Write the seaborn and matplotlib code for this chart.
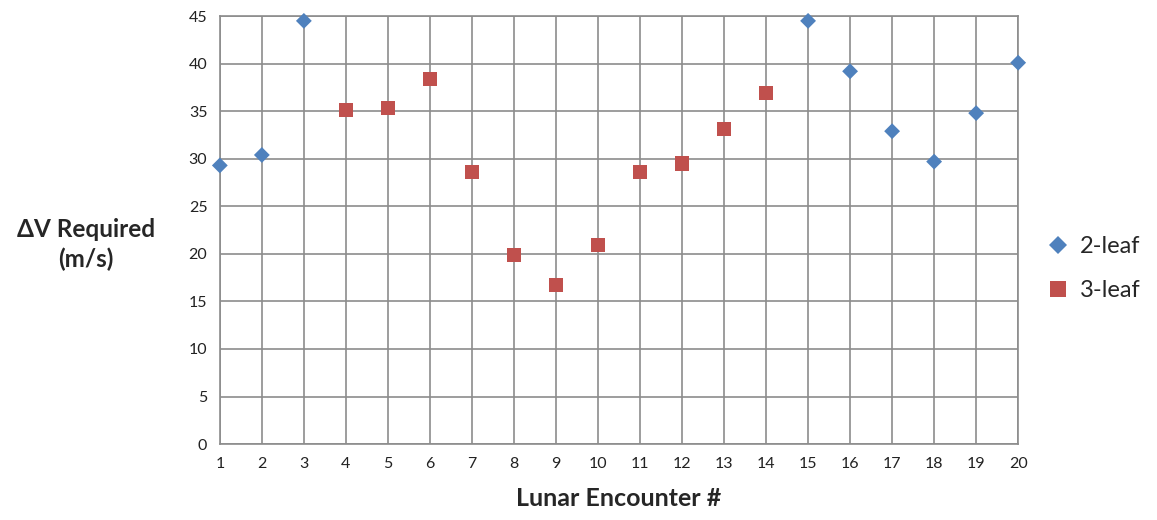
import pandas as pd
import numpy as np
import seaborn as sns
import matplotlib.pyplot as plt

sns.set_theme(style="white")
plt.rcParams["font.family"] = ["Lato", "DejaVu Sans"]

# valores
encounter = list(range(1, 21))
delta_v = [29.3, 30.4, 44.5, 35.1, 35.3, 38.4, 28.6, 19.9, 16.7, 20.9,
           28.6, 29.5, 33.1, 36.9, 44.5, 39.2, 32.9, 29.7, 34.8, 40.1]
leaf = ["2-leaf"] * 3 + ["3-leaf"] * 11 + ["2-leaf"] * 6

df = pd.DataFrame({"enc": encounter, "dv": delta_v, "leaf": leaf})

fig = plt.figure(figsize=(11.57, 5.2), dpi=100)
ax = fig.add_axes([0.190, 0.146, 0.690, 0.823])

sns.scatterplot(df, x="enc", y="dv", hue="leaf", style="leaf", size="leaf",
                hue_order=["2-leaf", "3-leaf"],
                palette={"2-leaf": "#4F81BD", "3-leaf": "#C0504D"},
                markers={"2-leaf": "D", "3-leaf": "s"},
                sizes={"2-leaf": 65, "3-leaf": 105},
                linewidth=0, ax=ax, zorder=3, clip_on=False)

ax.set_xlim(1, 20)
ax.set_ylim(0, 45)
ax.set_xticks(encounter)
ax.set_yticks(np.arange(0, 46, 5))
ax.grid(True, color="#8c8c8c", linewidth=1.2)
for s in ax.spines.values():
    s.set_color("#8c8c8c")
    s.set_linewidth(1.2)
ax.tick_params(axis="both", direction="out", length=5, width=1.2,
               color="#8c8c8c", labelsize=11.5, pad=4, labelcolor="#222222")

ax.set_xlabel("Lunar Encounter #", fontsize=18, fontweight="bold", labelpad=12)
ax.set_ylabel("")
fig.text(0.074, 0.53, "ΔV Required\n(m/s)", fontsize=17.5, fontweight="bold",
         ha="center", va="center", linespacing=1.35)

leg = ax.legend(loc="center left", bbox_to_anchor=(1.0, 0.41), frameon=False,
                fontsize=17, handletextpad=0.4, handlelength=1.0,
                labelspacing=0.95, borderaxespad=1.2, borderpad=0)
leg.legend_handles[0].set_markersize(9)
leg.legend_handles[1].set_markersize(11)

fig.savefig("out.png", dpi=100)
